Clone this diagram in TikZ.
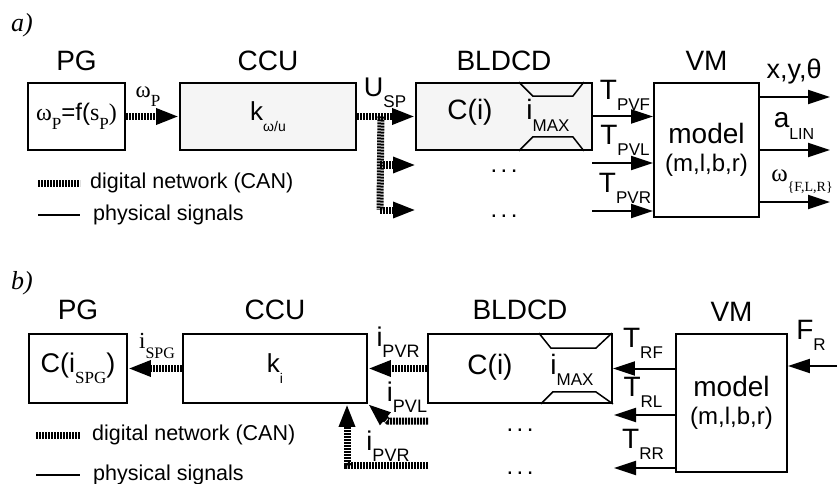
\documentclass[tikz,border=0pt]{standalone}
\usepackage{fontspec}
\setmainfont{Liberation Sans}
\newfontfamily\tmsfont{Liberation Serif}
\usetikzlibrary{arrows.meta,positioning}

% font size in px and a low index
\newcommand{\fs}[1]{\fontsize{#1}{#1}\selectfont}
\newcommand{\lo}[2][17]{\raisebox{-0.4em}{\fs{#1}#2}}
\newcommand{\ddd}{.\hspace{3.5pt}.\hspace{3.5pt}.}

\begin{document}
\begin{tikzpicture}[x=1pt, y=-1pt,
  blk/.style 2 args={draw, line width=1.8pt, minimum width=#1, minimum height=#2, inner sep=0pt, font=\fs{27}},
  ttl/.style={font=\fs{28}, anchor=base, inner sep=0pt},
  lbl/.style={font=\fs{27}, inner sep=0pt},
  can/.style={line width=7pt, dash pattern=on 2pt off 1pt, -{Triangle[length=23pt,width=15pt]}},
  phy/.style={line width=2pt, -{Triangle[length=22pt,width=14pt]}},
  leg/.style={font=\fs{21.5}, anchor=west, inner sep=0pt},
  sat/.style={line width=1.5pt},
]
\useasboundingbox (0,0) rectangle (838,484);

%%% a) forward path
\node[font=\fs{26}\tmsfont\itshape] (tagA) at (22,25) {a)};

\node[blk={97pt}{67pt}, font=\fs{24}] (pgA) at (76.5,116.5) {{\tmsfont\fs{24}ω\lo[17]{P}}=f({\tmsfont s\lo[17]{P})}};
\node[blk={176pt}{67pt}, fill=gray!8] (ccuA) at (268,116.5) {\fs{26}k\lo[14]{ω/u}};
\node[blk={176pt}{67pt}, fill=gray!8] (bldA) at (504,116.5) {};
\node[blk={105pt}{134pt}, align=center] (vmA) at (706.5,150) {\fs{28}model\\[1pt]{\fs{24}(m,l,b,r)}};

\node[ttl] (pgAt) at ([yshift=12pt]pgA.north) {PG};
\node[ttl] (ccuAt) at ([yshift=12pt]ccuA.north) {CCU};
\node[ttl] (bldAt) at ([yshift=12pt]bldA.north) {BLDCD};
\node[ttl] (vmAt) at ([yshift=12pt]vmA.north) {VM};

% current limit
\draw[sat] ([xshift=-74pt]bldA.north east) -- ++(14,14) -- ++(40,0) -- ++(11,-14);
\draw[sat] ([xshift=-74pt]bldA.south east) -- ++(14,-14) -- ++(40,0) -- ++(11,14);
\node[lbl, font=\fs{28}, anchor=base] (ciA) at ([shift={(-34,3.5)}]bldA.center) {C(i)};
\node[lbl, font=\fs{28}, anchor=base] (imA) at ([shift={(44,3.5)}]bldA.center) {i\lo{MAX}};

\draw[can] (pgA) -- (ccuA);
\node[lbl] (wpA) at (148,97) {\tmsfont\fs{23}ω\lo[17]{P}};

\draw[can] (ccuA) -- (bldA);
\node[lbl] (uspA) at (385,93) {U\lo{SP}};
\coordinate (brA) at ([xshift=24pt]ccuA.east);
\coordinate (brA1) at (380,165);
\coordinate (brA2) at (380,210);
\coordinate (inA1) at (416,165);
\coordinate (inA2) at (416,210);
\draw[can,-] (brA) -- (brA2);
\draw[can] (brA1) -- (inA1);
\draw[can] (brA2) -- (inA2);

\coordinate (tplA) at (592,163);
\coordinate (tprA) at (592,211);
\draw[phy] (bldA) -- (bldA.east -| vmA.west);
\draw[phy] (tplA) -- (tplA -| vmA.west);
\draw[phy] (tprA) -- (tprA -| vmA.west);
\node[lbl, font=\fs{28}] (tpfAl) at (625,95) {T\lo{PVF}};
\node[lbl, font=\fs{28}] (tplAl) at (625,140) {T\lo{PVL}};
\node[lbl, font=\fs{28}] (tprAl) at (625,188) {T\lo{PVR}};

\node[lbl, font=\fs{24}] (dA1) at (504,171) {\ddd};
\node[lbl, font=\fs{24}] (dA2) at (504,216) {\ddd};

\coordinate (oxA) at (830,97);
\coordinate (oaA) at (830,150);
\coordinate (owA) at (830,202);
\draw[phy] (vmA.east |- oxA) -- (oxA);
\draw[phy] (vmA.east |- oaA) -- (oaA);
\draw[phy] (vmA.east |- owA) -- (owA);
\node[lbl, font=\fs{27}] (xyA) at (794,72) {x,y,θ};
\node[lbl, font=\fs{28}] (aA) at (794,126) {a\lo[16]{LIN}};
\node[lbl] (wA) at (802,182) {\tmsfont\fs{25}ω\lo[14]{\{F,L,R\}}};

% legend
\coordinate (lcA1) at (38,183);
\coordinate (lcA2) at (80,183);
\coordinate (lpA1) at (38,215);
\coordinate (lpA2) at (80,215);
\draw[can,-] (lcA1) -- (lcA2);
\draw[line width=2pt] (lpA1) -- (lpA2);
\node[leg] (canA) at (90,183) {digital network (CAN)};
\node[leg] (phyA) at (93,215) {physical signals};

%%% b) backward path
\node[font=\fs{26}\tmsfont\itshape] (tagB) at (22,283) {b)};

\node[blk={98pt}{69pt}] (pgB) at (78,368.5) {C(i\lo[17]{\tmsfont SPG})};
\node[blk={184pt}{69pt}] (ccuB) at (275,368.5) {\fs{26}k\lo[14]{i}};
\node[blk={184pt}{69pt}] (bldB) at (520,368.5) {};
\node[blk={111pt}{138pt}, align=center] (vmB) at (731.5,403) {\fs{28}model\\[1pt]{\fs{24}(m,l,b,r)}};

\node[ttl] (pgBt) at ([yshift=14pt]pgB.north) {PG};
\node[ttl] (ccuBt) at ([yshift=14pt]ccuB.north) {CCU};
\node[ttl] (bldBt) at ([yshift=14pt]bldB.north) {BLDCD};
\node[ttl] (vmBt) at ([yshift=12pt]vmB.north) {VM};

\draw[sat] ([xshift=-74pt]bldB.north east) -- ++(12,15) -- ++(45,0) -- ++(16,-15);
\draw[sat] ([xshift=-72pt]bldB.south east) -- ++(12,-12) -- ++(43,0) -- ++(17,12);
\node[lbl, font=\fs{28}, anchor=base] (ciB) at ([shift={(-30,6)}]bldB.center) {C(i)};
\node[lbl, font=\fs{28}, anchor=base] (imB) at ([shift={(52,6)}]bldB.center) {i\lo{MAX}};

\draw[can] (ccuB) -- (pgB);
\node[lbl] (ispgB) at (157,346) {\tmsfont\fs{23}i\lo[16]{SPG}};

\draw[can] (bldB) -- (ccuB);
\node[lbl] (iprB) at (398,342) {i\lo[18]{PVR}};
\coordinate (iplB) at (428,421);
\coordinate (iplBk) at (388,421);
\draw[can] (iplB) -- (iplBk) -- (ccuB.south east);
\node[lbl] (iplBl) at (407,397) {i\lo[18]{PVL}};
\coordinate (ipr2B) at (428,465);
\coordinate (ipr2Bk) at (347,465);
\draw[can] (ipr2B) -- (ipr2Bk) -- (ipr2Bk |- ccuB.south);
\node[lbl] (ipr2Bl) at (388,446) {i\lo[18]{PVR}};

\coordinate (trlB) at (614,415);
\coordinate (trrB) at (614,468);
\draw[phy] (vmB.west |- bldB.east) -- (bldB);
\draw[phy] (vmB.west |- trlB) -- (trlB);
\draw[phy] (vmB.west |- trrB) -- (trrB);
\node[lbl, font=\fs{28}] (trfBl) at (643,343) {T\lo{RF}};
\node[lbl, font=\fs{28}] (trlBl) at (643,392) {T\lo{RL}};
\node[lbl, font=\fs{28}] (trrBl) at (643,444) {T\lo{RR}};

\coordinate (frB) at (837,366);
\draw[phy] (frB) -- (vmB.east |- frB);
\node[lbl, font=\fs{28}] (frBl) at (811,335) {F\lo{R}};

\node[lbl, font=\fs{24}] (dB1) at (520,430) {\ddd};
\node[lbl, font=\fs{24}] (dB2) at (520,473) {\ddd};

% legend
\coordinate (lcB1) at (36,435);
\coordinate (lcB2) at (80,435);
\coordinate (lpB1) at (36,475);
\coordinate (lpB2) at (80,475);
\draw[can,-] (lcB1) -- (lcB2);
\draw[line width=2pt] (lpB1) -- (lpB2);
\node[leg] (canB) at (92,435) {digital network (CAN)};
\node[leg] (phyB) at (93,475) {physical signals};
\end{tikzpicture}
\end{document}
